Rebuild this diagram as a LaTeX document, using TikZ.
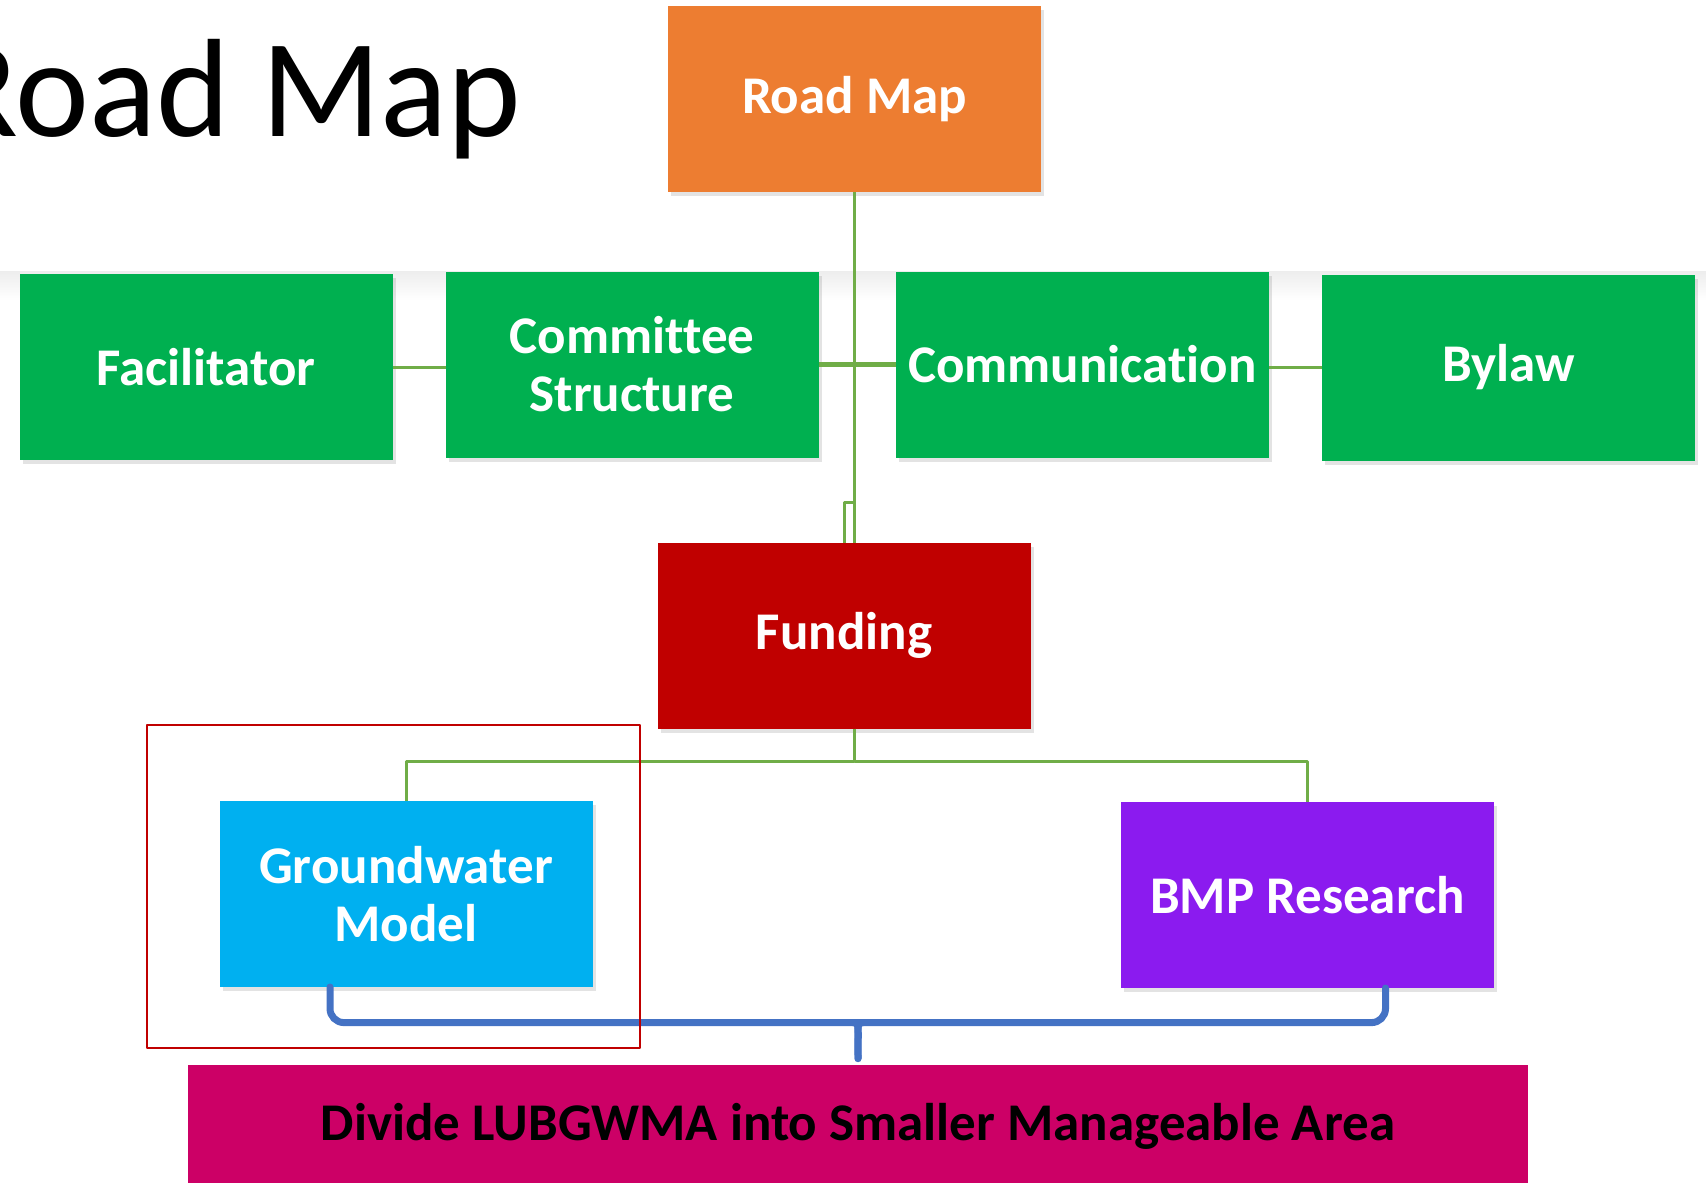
\documentclass[tikz,border=0pt]{standalone}
\usepackage{fontspec}
\setmainfont{Carlito}[Ligatures=NoCommon]
\usetikzlibrary{shadows}
\definecolor{roadorange}{HTML}{ED7D31}
\definecolor{boxgreen}{HTML}{00B050}
\definecolor{fundred}{HTML}{C00000}
\definecolor{gwblue}{HTML}{00B0F0}
\definecolor{bmppurple}{HTML}{8B1BEF}
\definecolor{areapink}{HTML}{CC0066}
\definecolor{linkgreen}{HTML}{70AD47}
\definecolor{bracketblue}{HTML}{4472C4}
\begin{document}
\begin{tikzpicture}[x=0.5pt,y=-0.5pt,line join=round,
  box/.style={fill=#1, text=white, minimum width=186.5pt, minimum height=93pt,
    inner sep=0pt, outer sep=0pt, align=center,
    font=\bfseries\fontsize{26.5}{29}\selectfont,
    drop shadow={shadow xshift=1.5pt, shadow yshift=-2pt, opacity=0.22}},
  areabox/.style={fill=areapink, text=black, minimum width=670pt, minimum height=75pt,
    text height=10pt, text depth=10pt, inner sep=0pt,
    font=\bfseries\fontsize{26.5}{29}\selectfont},
  titletext/.style={font=\fontsize{70}{78}\selectfont, inner sep=0pt},
  link/.style={draw=linkgreen, line width=1.5pt},
  brace/.style={draw=bracketblue, line width=3.5pt, line cap=round},
  frame/.style={draw=fundred, line width=1pt}]
\useasboundingbox (0,0) rectangle (1706,1182);
\clip (0,0) rectangle (1706,1182);
% faint band behind the row
\shade[top color=black!7, bottom color=white] (0,271) rectangle (1706,300);
\node[titletext, anchor=base east] (title) at (522,137) {Road Map};
% boxes
\node[box=roadorange] (roadmap) at (854.5,99.5) {Road Map};
\foreach \n/\x/\y/\t in {facil/206/367/Facilitator, committee/632/364.5/{Committee\\Structure},
    comm/1082.5/364.5/Communication, bylaw/1508.5/367.5/Bylaw}
  \node[box=boxgreen] (\n) at (\x,\y) {\t};
\node[box=fundred] (funding) at (844,635.5) {Funding};
\node[box=gwblue] (gw) at (406,894) {Groundwater\\Model};
\node[box=bmppurple] (bmp) at (1307.5,895) {BMP Research};
\node[areabox] (area) at (858,1140) {Divide LUBGWMA into Smaller Manageable Area};
% links
\draw[link] (roadmap.south) -- (roadmap.south |- funding.north);
\draw[link] (roadmap.south) -- ++(0,310) -| (funding.north);
\draw[link] (facil.east) -- (facil.east -| committee.west);
\draw[link, line width=2.5pt] (committee.east) -- (comm.west);
\draw[link] (bylaw.west -| comm.east) -- (bylaw.west);
\draw[link] (funding.south -| roadmap.south) -- ++(0,33) coordinate (split) -| (gw.north);
\draw[link] (split) -| (bmp.north);
% brace
\coordinate (tip) at ([yshift=3pt]area.north);
\draw[brace, rounded corners=7pt] ([xshift=-38pt]gw.south) |- ([xshift=-4.5pt,yshift=18pt]tip)
  .. controls +(7,0) and +(0,-29) .. (tip);
\draw[brace, rounded corners=7pt] ([xshift=39pt]bmp.south) |- ([xshift=4.5pt,yshift=18pt]tip)
  .. controls +(-7,0) and +(0,-29) .. (tip);
\draw[frame] (147,725) rectangle (640,1048);
\end{tikzpicture}
\end{document}
